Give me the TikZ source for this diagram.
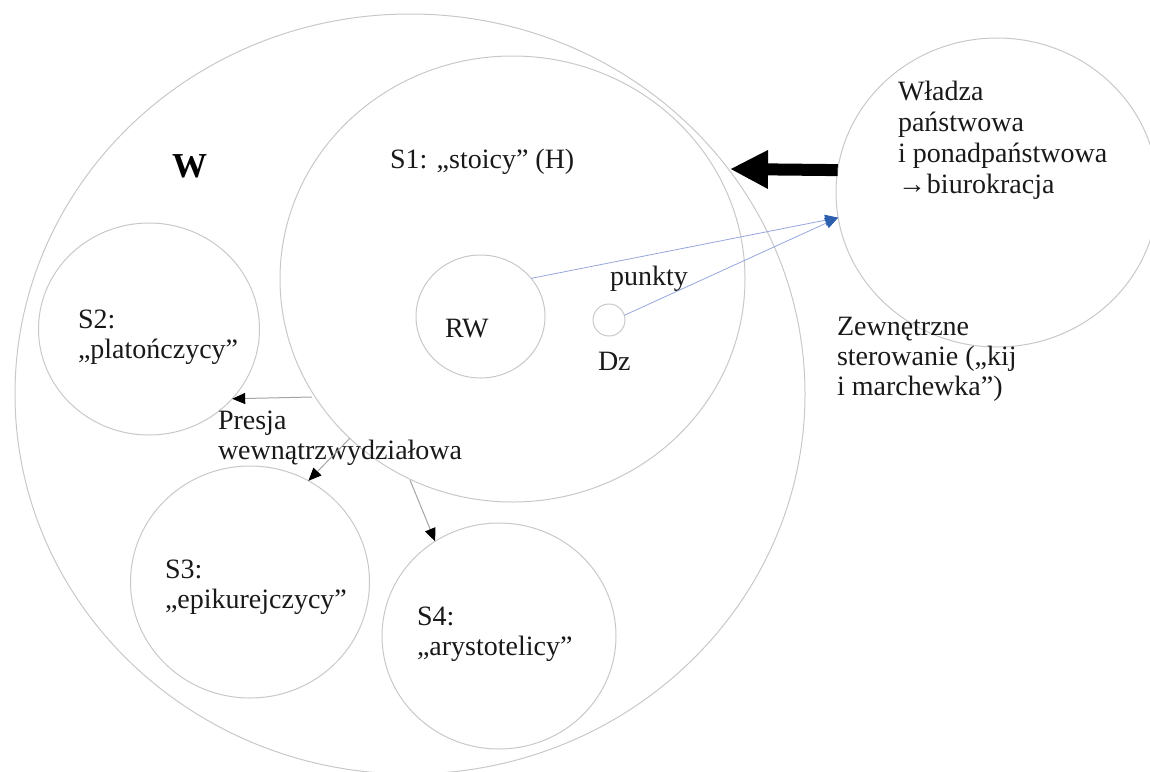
\documentclass[tikz,border=0pt]{standalone}
\usepackage{fontspec}
\setmainfont{Liberation Serif}
\usetikzlibrary{arrows.meta,shapes.geometric}
\definecolor{ringgray}{RGB}{200,200,200}
\definecolor{lnblue}{RGB}{150,165,220}
\definecolor{tipblue}{RGB}{45,95,175}
\definecolor{lngray}{RGB}{165,165,165}
\begin{document}
\begin{tikzpicture}[x=1pt,y=-1pt,
  ring/.style={draw=ringgray, line width=1pt, ellipse, inner sep=0pt, outer sep=0pt},
  lbl/.style={anchor=base west, inner sep=0pt, outer sep=0pt, align=left, font=\fontsize{28}{30}\selectfont, text=black!90},
  press/.style={draw=lngray, line width=1pt, -{Triangle[length=13pt,width=11pt,color=black]}},
  ctrl/.style={draw=lnblue, line width=0.8pt, -{Triangle[length=13pt,width=11pt,color=tipblue]}},
  power/.style={line width=12pt, -{Triangle[length=38pt,width=36pt]}}
]
\useasboundingbox (0,0) rectangle (1150,771);
% circles
\node[ring, minimum width=790pt, minimum height=760pt] (wring) at (410,394) {};
\node[ring, minimum width=465pt, minimum height=446pt] (s1) at (512.5,279) {};
\node[ring, minimum width=221pt, minimum height=212pt] (s2) at (149,329) {};
\node[ring, minimum width=239pt, minimum height=232pt] (s3) at (250,582) {};
\node[ring, minimum width=234pt, minimum height=226pt] (s4) at (499,636) {};
\node[ring, minimum width=129pt, minimum height=123pt] (rw) at (480.5,316.5) {};
\node[ring, minimum width=32pt, minimum height=32pt] (dz) at (609,320) {};
\node[ring, minimum width=322pt, minimum height=309pt] (wladza) at (997,192.5) {};
% texts (base = baseline of the last line)
\node[lbl, font=\fontsize{35}{40}\selectfont\bfseries, text=black] (tW) at (172,177) {W};
\node[lbl] (tS1) at (390,168) {S1: „stoicy” (H)};
\node[lbl] (tS2) at (78,358) {S2:\\„platończycy”};
\node[lbl] (tS3) at (165,608) {S3:\\„epikurejczycy”};
\node[lbl] (tS4) at (417,655) {S4:\\„arystotelicy”};
\node[lbl] (tRW) at (445,337) {RW};
\node[lbl] (tDz) at (598,370) {Dz};
\node[lbl] (tpk) at (610,285) {punkty};
\node[lbl] (tPres) at (218,459) {Presja\\wewnątrzwydziałowa};
\node[lbl, font=\fontsize{28}{31}\selectfont] (tWl) at (898,193) {Władza\\państwowa\\i ponadpaństwowa\\→\hspace{1pt}biurokracja};
\node[lbl] (tZew) at (837,395) {Zewnętrzne\\sterowanie („kij\\i marchewka”)};
% free ends
\coordinate (c1) at (312,397);
\coordinate (c2) at (350,438);
\coordinate (c3) at (410,480);
\coordinate (tipA) at (730,169);
% connectors
\draw[press] (c1) -- (s2.-40);
\draw[press] (c2) -- (s3.60);
\draw[press] (c3) -- (s4.124);
\draw[ctrl] (rw.37) -- (wladza.189);
\draw[ctrl] (dz.17) -- (wladza.189);
\draw[power] (wladza.172) -- (tipA);
\end{tikzpicture}
\end{document}
